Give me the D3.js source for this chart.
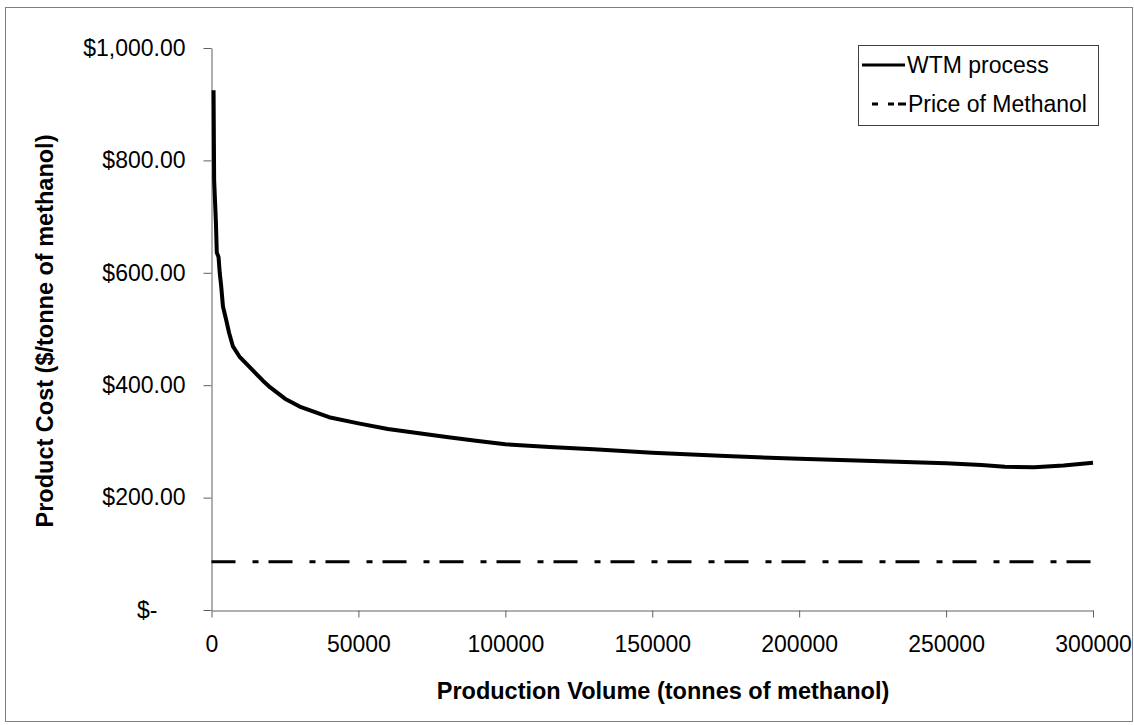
<!DOCTYPE html>
<html>
<head>
<meta charset="utf-8">
<script src="https://cdn.jsdelivr.net/npm/d3@7"></script>
<style>
  html, body { margin: 0; padding: 0; background: #fff; }
  svg { display: block; font-family: "Liberation Sans", Arial, sans-serif; }
</style>
</head>
<body>
<svg id="chart" width="1134" height="725"></svg>
<script>
// ---- data ----
const wtmVolume = [700, 900, 1500, 1800, 2400, 2800, 3300, 3900, 5000, 6000, 7300, 9500, 13000, 17500, 20000, 25000, 30000, 40000, 50000, 60000, 70000, 80000, 90000, 100000, 115000, 130000, 150000, 175000, 200000, 225000, 250000, 262000, 270000, 280000, 290000, 300000];
const wtmCost   = [925, 765, 690, 636, 628, 600, 576, 540, 516, 493, 469, 451, 432, 408, 396, 376, 362, 343, 332, 322, 315, 308, 301, 295, 290, 286, 280, 274, 269, 265, 261, 258, 255, 254, 257, 262];
const priceVolume = [0, 300000];
const priceCost   = [86, 86];
const xTicks = [0, 50000, 100000, 150000, 200000, 250000, 300000];
const yTicks = [0, 200, 400, 600, 800, 1000];
const seriesNames = ["WTM process", "Price of Methanol"];
const xTitle = "Production Volume (tonnes of methanol)";
const yTitle = "Product Cost ($/tonne of methanol)";

// ---- layout ----
const svg = d3.select("#chart");
const x = d3.scaleLinear().domain([0, 300000]).range([211.5, 1093]);
const y = d3.scaleLinear().domain([0, 1000]).range([610, 48]);

// outer frame
svg.append("rect").attr("x", 5.5).attr("y", 7.5).attr("width", 1127).attr("height", 714)
  .attr("fill", "none").attr("stroke", "#808080").attr("stroke-width", 1);

const fmtY = v => v === 0 ? "$-" : "$" + d3.format(",.2f")(v);

const yAxis = svg.append("g").attr("transform", "translate(211.5,0)")
  .call(d3.axisLeft(y).tickValues(yTicks).tickFormat(fmtY).tickSize(8).tickPadding(18).tickSizeOuter(0));
yAxis.selectAll("text").attr("font-size", 23).attr("fill", "#000").attr("font-family", "Liberation Sans, Arial, sans-serif");
yAxis.selectAll("text").filter(d => d === 0).attr("dx", -28);

const xAxis = svg.append("g").attr("transform", "translate(0,610.5)")
  .call(d3.axisBottom(x).tickValues(xTicks).tickFormat(d3.format("d")).tickSize(7).tickPadding(18).tickSizeOuter(0));
xAxis.selectAll("text").attr("font-size", 23).attr("fill", "#000").attr("font-family", "Liberation Sans, Arial, sans-serif");

[yAxis, xAxis].forEach(a => {
  a.select(".domain").attr("stroke", "#606060");
  a.selectAll(".tick line").attr("stroke", "#606060");
});

// series
const wtmData = wtmVolume.map((v, i) => [v, wtmCost[i]]);
const priceData = priceVolume.map((v, i) => [v, priceCost[i]]);
const line = d3.line().x(d => x(d[0])).y(d => y(d[1]));

svg.append("path").datum(priceData).attr("d", line)
  .attr("fill", "none").attr("stroke", "#000").attr("stroke-width", 3)
  .attr("stroke-dasharray", "24,17,6,10");

svg.append("path").datum(wtmData).attr("d", line)
  .attr("fill", "none").attr("stroke", "#000").attr("stroke-width", 4)
  .attr("stroke-linejoin", "round");

// axis titles
svg.append("text").attr("x", 663).attr("y", 699).attr("text-anchor", "middle")
  .attr("font-size", 23.5).attr("font-weight", "bold").text(xTitle);
svg.append("text").attr("transform", "translate(53,331) rotate(-90)").attr("text-anchor", "middle")
  .attr("font-size", 23.5).attr("font-weight", "bold").text(yTitle);

// legend
const lg = svg.append("g");
lg.append("rect").attr("x", 858.5).attr("y", 45.5).attr("width", 240).attr("height", 80)
  .attr("fill", "#fff").attr("stroke", "#404040").attr("stroke-width", 1);
const rows = [65, 104];
lg.append("line").attr("x1", 862).attr("x2", 905).attr("y1", rows[0]).attr("y2", rows[0])
  .attr("stroke", "#000").attr("stroke-width", 3);
lg.append("line").attr("x1", 862).attr("x2", 906).attr("y1", rows[1]).attr("y2", rows[1])
  .attr("stroke", "#000").attr("stroke-width", 3).attr("stroke-dasharray", "0,10,6,10,6,4,6");
lg.selectAll("text.lt").data(seriesNames).join("text").attr("class", "lt")
  .attr("x", (d, i) => i === 0 ? 907 : 908).attr("y", (d, i) => rows[i]).attr("dy", "0.35em")
  .attr("font-size", 23).attr("fill", "#000").text(d => d);
</script>
</body>
</html>
